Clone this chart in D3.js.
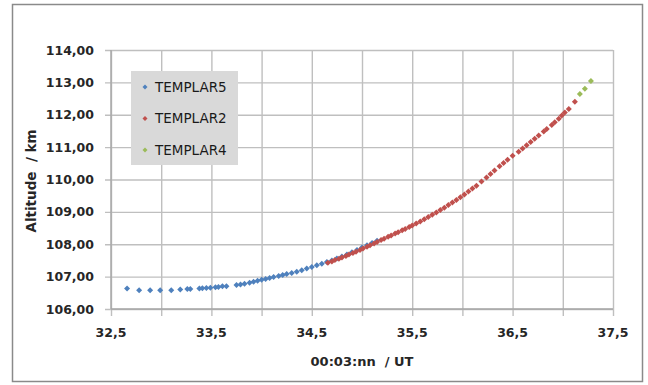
<!DOCTYPE html>
<html>
<head>
<meta charset="utf-8">
<script src="https://cdn.jsdelivr.net/npm/d3@7"></script>
<style>
  body { margin: 0; background: #fff; }
  svg { display: block; font-family: "DejaVu Sans", sans-serif; }
</style>
</head>
<body>
<svg id="chart" width="648" height="385"></svg>
<script>
// TEMPLAR5 (blue)
const t5_x = [32.66, 32.78, 32.89, 32.99, 33.10, 33.19, 33.26, 33.29, 33.38, 33.41, 33.45, 33.49,
  33.54, 33.57, 33.61, 33.65, 33.75, 33.79, 33.83, 33.88, 33.92, 33.96, 34.00, 34.04, 34.08,
  34.12, 34.17, 34.21, 34.25, 34.30, 34.35, 34.40, 34.45, 34.50, 34.55, 34.60, 34.65, 34.70,
  34.75, 34.80, 34.85, 34.90, 34.95, 35.00, 35.05, 35.10, 35.15];
const t5_y = [106.63, 106.58, 106.58, 106.58, 106.58, 106.60, 106.62, 106.62, 106.63, 106.64,
  106.65, 106.66, 106.67, 106.68, 106.70, 106.70, 106.74, 106.76, 106.78, 106.81, 106.84, 106.87,
  106.90, 106.93, 106.96, 106.99, 107.02, 107.05, 107.08, 107.11, 107.15, 107.20, 107.25, 107.30,
  107.35, 107.40, 107.45, 107.50, 107.56, 107.62, 107.68, 107.75, 107.82, 107.90, 107.97, 108.04,
  108.11];

// TEMPLAR2 (red)
const t2_x = [34.66, 34.70, 34.73, 34.77, 34.80, 34.84, 34.87, 34.91, 34.94, 34.98, 35.01, 35.05,
  35.08, 35.12, 35.15, 35.19, 35.22, 35.26, 35.29, 35.33, 35.36, 35.40, 35.43, 35.47, 35.50,
  35.54, 35.58, 35.62, 35.66, 35.70, 35.74, 35.78, 35.82, 35.86, 35.90, 35.94, 35.98, 36.02,
  36.06, 36.10, 36.14, 36.19, 36.24, 36.28, 36.32, 36.37, 36.41, 36.45, 36.50, 36.56, 36.60,
  36.64, 36.68, 36.72, 36.76, 36.81, 36.84, 36.89, 36.92, 36.96, 36.99, 37.02, 37.06, 37.12];
const t2_y = [107.43, 107.47, 107.51, 107.55, 107.59, 107.64, 107.68, 107.73, 107.77, 107.82,
  107.87, 107.92, 107.97, 108.02, 108.07, 108.13, 108.17, 108.23, 108.27, 108.33, 108.37, 108.43,
  108.47, 108.53, 108.58, 108.64, 108.70, 108.77, 108.84, 108.91, 108.98, 109.06, 109.13, 109.21,
  109.29, 109.37, 109.45, 109.54, 109.63, 109.72, 109.81, 109.94, 110.06, 110.17, 110.28, 110.41,
  110.51, 110.61, 110.73, 110.86, 110.96, 111.06, 111.16, 111.26, 111.36, 111.48, 111.56, 111.68,
  111.77, 111.88, 111.98, 112.07, 112.18, 112.40];

// TEMPLAR4 (green)
const t4_x = [37.17, 37.22, 37.28];
const t4_y = [112.64, 112.80, 113.04];

const series_names = ["TEMPLAR5", "TEMPLAR2", "TEMPLAR4"];
const series_colors = ["#4f81bd", "#c0504d", "#9bbb59"];

const x_grid = [32.5, 33, 33.5, 34, 34.5, 35, 35.5, 36, 36.5, 37, 37.5];
const x_labels = ["32,5", "33,5", "34,5", "35,5", "36,5", "37,5"];
const y_ticks = [106, 107, 108, 109, 110, 111, 112, 113, 114];

const margin = {top: 50, right: 35, bottom: 76, left: 111};
const width = 648 - margin.left - margin.right;
const height = 385 - margin.top - margin.bottom;

const svg = d3.select("#chart");

// outer frame
svg.append("rect")
  .attr("x", 12.5).attr("y", 4.5)
  .attr("width", 630).attr("height", 377)
  .attr("fill", "none")
  .attr("stroke", "#8a8a8a")
  .attr("stroke-width", 1.5);

let x = d3.scaleLinear().domain([32.5, 37.5]).range([0, width]);
let y = d3.scaleLinear().domain([106, 114]).range([height, 0]);

let g = svg.append("g")
  .attr("transform", "translate(" + margin.left + "," + margin.top + ")");

const gridColor = "#bfbfbf";

// gridlines + ticks
g.append("g")
  .attr("transform", "translate(0," + height + ")")
  .call(d3.axisBottom(x).tickValues(x_grid).tickSize(-height).tickFormat(""))
  .call(a => a.select(".domain").remove())
  .call(a => a.selectAll("line").attr("stroke", gridColor).attr("stroke-width", 1.4)
    .attr("y1", 7));

g.append("g")
  .call(d3.axisLeft(y).tickValues(y_ticks).tickSize(-width).tickFormat(""))
  .call(a => a.select(".domain").remove())
  .call(a => a.selectAll("line").attr("stroke", gridColor).attr("stroke-width", 1.4)
    .attr("x1", -6));

// axis lines
g.append("line").attr("x1", 0).attr("x2", 0).attr("y1", 0).attr("y2", height)
  .attr("stroke", "#a6a6a6").attr("stroke-width", 1.4);
g.append("line").attr("x1", 0).attr("x2", width).attr("y1", height).attr("y2", height)
  .attr("stroke", "#a6a6a6").attr("stroke-width", 1.4);

// tick labels
g.append("g").selectAll("text")
  .data(y_ticks)
  .enter().append("text")
  .attr("x", -17)
  .attr("y", d => y(d))
  .attr("dy", "0.36em")
  .attr("text-anchor", "end")
  .attr("font-size", 12.5)
  .attr("font-weight", "bold")
  .attr("fill", "#262626")
  .text(d => d3.format(".2f")(d).replace(".", ","));

g.append("g").selectAll("text")
  .data(x_labels)
  .enter().append("text")
  .attr("x", d => x(+d.replace(",", ".")))
  .attr("y", height + 28)
  .attr("text-anchor", "middle")
  .attr("font-size", 12.5)
  .attr("font-weight", "bold")
  .attr("fill", "#262626")
  .text(d => d);

// axis titles
svg.append("text")
  .attr("x", margin.left + width / 2)
  .attr("y", 366)
  .attr("text-anchor", "middle")
  .attr("font-size", 13)
  .attr("font-weight", "bold")
  .attr("fill", "#262626")
  .attr("xml:space", "preserve")
  .text("00:03:nn  / UT");

svg.append("text")
  .attr("transform", "translate(36,181) rotate(-90)")
  .attr("text-anchor", "middle")
  .attr("font-size", 13.5)
  .attr("font-weight", "bold")
  .attr("fill", "#262626")
  .attr("xml:space", "preserve")
  .text("Altitude  / km");

function diamond(r) {
  return "M0," + (-r) + "L" + r + ",0L0," + r + "L" + (-r) + ",0Z";
}

const all_series = [
  {xs: t5_x, ys: t5_y},
  {xs: t2_x, ys: t2_y},
  {xs: t4_x, ys: t4_y}
];

all_series.forEach(function(s, i) {
  let pts = s.xs.map((v, j) => [v, s.ys[j]]);
  g.append("g").selectAll("path")
    .data(pts)
    .enter().append("path")
    .attr("d", diamond(3))
    .attr("transform", d => "translate(" + x(d[0]) + "," + y(d[1]) + ")")
    .attr("fill", series_colors[i]);
});

// legend
let legend = svg.append("g").attr("transform", "translate(131,71)");
legend.append("rect")
  .attr("width", 107).attr("height", 94)
  .attr("fill", "#d9d9d9");
series_names.forEach(function(name, i) {
  let row = legend.append("g").attr("transform", "translate(0," + (16 + i * 31.5) + ")");
  row.append("path")
    .attr("d", diamond(2.5))
    .attr("transform", "translate(14,0)")
    .attr("fill", series_colors[i]);
  row.append("text")
    .attr("x", 24)
    .attr("dy", "0.36em")
    .attr("font-size", 13.5)
    .attr("fill", "#1a1a1a")
    .text(name);
});
</script>
</body>
</html>
